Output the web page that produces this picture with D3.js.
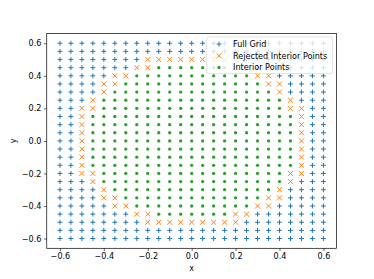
<!DOCTYPE html>
<html>
<head>
<meta charset="utf-8">
<script src="https://cdn.jsdelivr.net/npm/d3@7"></script>
<style>
  body { margin: 0; background: #fff; }
  text { font-family: "DejaVu Sans", sans-serif; }
</style>
</head>
<body>
<div id="chart"></div>
<script>
// grid coordinates (columns left to right, rows top to bottom)
var gridX = [-0.6, -0.55, -0.5, -0.45, -0.4, -0.35, -0.3, -0.25, -0.2, -0.15, -0.1, -0.05, 0,
             0.05, 0.1, 0.15, 0.2, 0.25, 0.3, 0.35, 0.4, 0.45, 0.5, 0.55, 0.6];
var gridY = [0.6, 0.55, 0.5, 0.45, 0.4, 0.35, 0.3, 0.25, 0.2, 0.15, 0.1, 0.05, 0,
             -0.05, -0.1, -0.15, -0.2, -0.25, -0.3, -0.35, -0.4, -0.45, -0.5, -0.55, -0.6];
// one row per gridY value: '+' full grid, 'x' rejected interior, 'o' interior (spaces only for reading)
var gridMask = [
  "+++++ +++++ +++++ +++++ +++++",
  "+++++ +++++ +++++ +++++ +++++",
  "+++++ +++xx xxxxx xx+++ +++++",
  "+++++ ++xxo ooooo oxx++ +++++",
  "+++++ xxooo ooooo oooxx +++++",
  "++++x xoooo ooooo oooox x++++",
  "++++x ooooo ooooo ooooo x++++",
  "+++xo ooooo ooooo ooooo ox+++",
  "++xxo ooooo ooooo ooooo oxx++",
  "++xoo ooooo ooooo ooooo oox++",
  "++xoo ooooo ooooo ooooo oox++",
  "++xoo ooooo ooooo ooooo oox++",
  "++xoo ooooo ooooo ooooo oox++",
  "++xoo ooooo ooooo ooooo oox++",
  "++xoo ooooo ooooo ooooo oox++",
  "++xoo ooooo ooooo ooooo oox++",
  "++xxo ooooo ooooo ooooo oxx++",
  "+++xo ooooo ooooo ooooo ox+++",
  "++++x ooooo ooooo ooooo x++++",
  "++++x xoooo ooooo oooox x++++",
  "+++++ xxooo ooooo oooxx +++++",
  "+++++ ++xxo ooooo oxx++ +++++",
  "+++++ +++xx xxxxx xx+++ +++++",
  "+++++ +++++ +++++ +++++ +++++",
  "+++++ +++++ +++++ +++++ +++++"
];
var xTicks = [-0.6, -0.4, -0.2, 0, 0.2, 0.4, 0.6];
var yTicks = [-0.6, -0.4, -0.2, 0, 0.2, 0.4, 0.6];
var seriesKeys = ["+", "x", "o"];
var seriesNames = ["Full Grid", "Rejected Interior Points", "Interior Points"];
var seriesColors = ["#1f77b4", "#ff7f0e", "#2ca02c"];

var W = 374, H = 279;
var margin = {top: 33.5, right: 37.4, bottom: 30.7, left: 46.75};
var fs = 8.1;

var svg = d3.select("#chart").append("svg")
  .attr("width", W).attr("height", H);

var x = d3.scaleLinear().domain([-0.66, 0.66]).range([margin.left, W - margin.right]);
var y = d3.scaleLinear().domain([-0.66, 0.66]).range([H - margin.bottom, margin.top]);

// flatten the mask into points
var points = [];
gridMask.forEach(function(row, j) {
  row.replace(/ /g, "").split("").forEach(function(c, i) {
    points.push({x: gridX[i], y: gridY[j], kind: c});
  });
});

var plusPath = "M-2.45,0H2.45M0,-2.45V2.45";
var crossPath = "M-2.45,-2.45L2.45,2.45M-2.45,2.45L2.45,-2.45";

function drawMarker(sel, key, color) {
  if (key === "o") {
    sel.append("circle").attr("r", 1.65).attr("fill", color);
  } else {
    sel.append("path").attr("d", key === "+" ? plusPath : crossPath)
      .attr("stroke", color).attr("stroke-width", 1).attr("fill", "none");
  }
}

// plot in matplotlib order: full grid, rejected, interior
seriesKeys.forEach(function(key, k) {
  svg.append("g").selectAll("g")
    .data(points.filter(function(d) { return d.kind === key; }))
    .enter().append("g")
      .attr("transform", function(d) { return "translate(" + x(d.x) + "," + y(d.y) + ")"; })
      .each(function() { drawMarker(d3.select(this), key, seriesColors[k]); });
});

// axes
var fmt = d3.format(".1f");
var xAxis = svg.append("g")
  .attr("transform", "translate(0," + (H - margin.bottom) + ")")
  .call(d3.axisBottom(x).tickValues(xTicks).tickFormat(fmt).tickSize(2.8).tickPadding(2.6).tickSizeOuter(0));
var yAxis = svg.append("g")
  .attr("transform", "translate(" + margin.left + ",0)")
  .call(d3.axisLeft(y).tickValues(yTicks).tickFormat(fmt).tickSize(2.8).tickPadding(2.6).tickSizeOuter(0));
[xAxis, yAxis].forEach(function(a) {
  a.select(".domain").remove();
  a.selectAll("line").attr("stroke", "#000").attr("stroke-width", 0.6);
  a.selectAll("text").attr("fill", "#000").style("font-size", fs + "px")
    .style("font-family", "'DejaVu Sans', sans-serif");
});

// frame
svg.append("rect")
  .attr("x", margin.left).attr("y", margin.top)
  .attr("width", W - margin.left - margin.right)
  .attr("height", H - margin.top - margin.bottom)
  .attr("fill", "none").attr("stroke", "#000").attr("stroke-width", 0.7);

// axis labels
svg.append("text")
  .attr("x", (margin.left + W - margin.right) / 2).attr("y", 271)
  .attr("text-anchor", "middle").style("font-size", fs + "px").text("x");
svg.append("text")
  .attr("transform", "translate(16," + (margin.top + H - margin.bottom) / 2 + ") rotate(-90)")
  .attr("text-anchor", "middle").style("font-size", fs + "px").text("y");

// legend
var legX = 206.7, legY = 36.9, legW = 125.9, legH = 36.5;
var legend = svg.append("g");
legend.append("rect")
  .attr("x", legX).attr("y", legY).attr("width", legW).attr("height", legH)
  .attr("rx", 2).attr("fill", "#fff").attr("fill-opacity", 0.8)
  .attr("stroke", "#cccccc").attr("stroke-width", 0.6);
seriesNames.forEach(function(name, k) {
  var row = legend.append("g")
    .attr("transform", "translate(" + (legX + 12.3) + "," + (legY + 7.2 + k * 11.7) + ")");
  drawMarker(row, seriesKeys[k], seriesColors[k]);
  row.append("text")
    .attr("x", 14).attr("dy", "0.35em")
    .style("font-size", fs + "px").attr("fill", "#000")
    .text(name);
});
</script>
</body>
</html>
